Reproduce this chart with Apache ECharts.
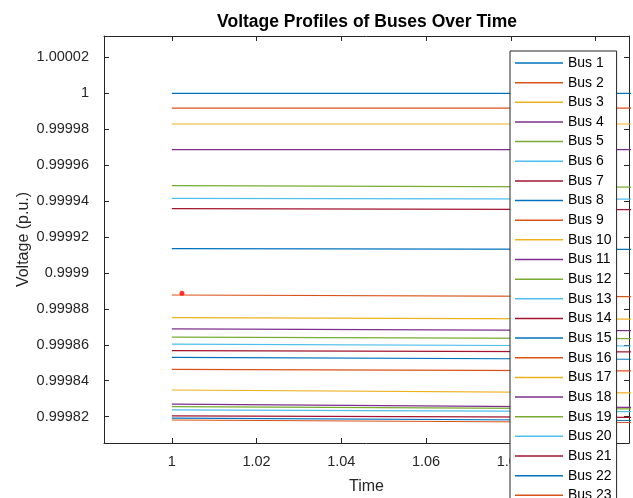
<!DOCTYPE html>
<html>
<head>
<meta charset="utf-8">
<script src="https://cdn.jsdelivr.net/npm/echarts@6/dist/echarts.min.js"></script>
<style>
  html, body { margin: 0; padding: 0; background: #fff; }
  #main { width: 633px; height: 498px; }
</style>
</head>
<body>
<div id="main"></div>
<script>
// time points of each bus trace (the traces run past the right edge of the axes)
const time = [1, 1.11];
const busNames = ["Bus 1", "Bus 2", "Bus 3", "Bus 4", "Bus 5", "Bus 6", "Bus 7", "Bus 8",
  "Bus 9", "Bus 10", "Bus 11", "Bus 12", "Bus 13", "Bus 14", "Bus 15", "Bus 16",
  "Bus 17", "Bus 18", "Bus 19", "Bus 20", "Bus 21", "Bus 22", "Bus 23"];
// voltage at first time point
const vStart = [1.0000000, 0.9999917, 0.9999829, 0.9999686, 0.9999486, 0.9999415, 0.9999358, 0.9999135,
  0.9998877, 0.9998751, 0.9998688, 0.9998642, 0.9998604, 0.9998567, 0.9998530, 0.9998463,
  0.9998348, 0.9998269, 0.9998255, 0.9998237, 0.9998204, 0.9998192, 0.9998181];
// voltage at last time point
const vEnd = [1.0000000, 0.9999917, 0.9999829, 0.9999686, 0.9999478, 0.9999411, 0.9999352, 0.9999131,
  0.9998868, 0.9998742, 0.9998679, 0.9998634, 0.9998593, 0.9998560, 0.9998519, 0.9998454,
  0.9998332, 0.9998251, 0.9998243, 0.9998227, 0.9998195, 0.9998178, 0.9998167];
// red marker point
const markerTime = [1.0024];
const markerVolt = [0.9998887];
// tick labels
const xTicks = [1, 1.02, 1.04, 1.06, 1.08, 1.1];
const yTicks = [0.99982, 0.99984, 0.99986, 0.99988, 0.9999, 0.99992, 0.99994, 0.99996, 0.99998, 1, 1.00002];

const colors = ["#0072BD", "#D95319", "#EDB120", "#7E2F8E", "#77AC30", "#4DBEEE", "#A2142F"];
const font = "'Liberation Sans', Arial, Helvetica, sans-serif";
const axisColor = "#262626";
const fmt = v => String(+v.toFixed(5));

const xRange = [0.984, 1.1079];
const yRange = [0.9998053, 1.0000319];

let myChart = echarts.init(document.getElementById("main"));

let series = busNames.map((name, k) => ({
  name: name,
  type: "line",
  data: time.map((t, i) => [t, i === 0 ? vStart[k] : vEnd[k]]),
  symbol: "none",
  color: colors[k % colors.length],
  lineStyle: { width: 1.2 },
  silent: true,
  animation: false,
}));
series.push({
  name: "marker",
  type: "scatter",
  data: markerTime.map((t, i) => [t, markerVolt[i]]),
  symbolSize: 5,
  itemStyle: { color: "#FF0000" },
  z: 10,
  animation: false,
});

const baseX = {
  type: "value",
  min: xRange[0],
  max: xRange[1],
  splitLine: { show: false },
  axisLine: { show: true, lineStyle: { color: axisColor, width: 1 } },
  axisTick: { show: true, inside: true, length: 5, customValues: xTicks, lineStyle: { color: axisColor } },
};
const baseY = {
  type: "value",
  min: yRange[0],
  max: yRange[1],
  splitLine: { show: false },
  axisLine: { show: true, lineStyle: { color: axisColor, width: 1 } },
  axisTick: { show: true, inside: true, length: 5, customValues: yTicks, lineStyle: { color: axisColor } },
};

let option = {
  backgroundColor: "#fff",
  animation: false,
  title: {
    text: "Voltage Profiles of Buses Over Time",
    left: 367,
    top: 14,
    padding: 0,
    textAlign: "center",
    textStyle: { fontFamily: font, fontSize: 17.5, fontWeight: "bold", color: "#000", lineHeight: 17 },
  },
  legend: {
    data: busNames,
    orient: "vertical",
    left: 510,
    top: 51,
    height: 800,
    padding: [5, 5, 5, 5],
    icon: "rect",
    itemWidth: 48,
    itemHeight: 1.5,
    itemGap: 5.65,
    backgroundColor: "#fff",
    borderColor: axisColor,
    borderWidth: 1,
    borderRadius: 0,
    textStyle: { fontFamily: font, fontSize: 14, color: "#000", lineHeight: 14 },
  },
  grid: { left: 104, right: 4, top: 36, bottom: 55, outerBoundsMode: "none" },
  xAxis: [
    Object.assign({}, baseX, {
      position: "bottom",
      name: "Time",
      nameLocation: "middle",
      nameGap: 36,
      nameMoveOverlap: false,
      nameTextStyle: { fontFamily: font, fontSize: 16, color: axisColor },
      axisLabel: {
        customValues: xTicks, formatter: fmt, margin: 11,
        fontFamily: font, fontSize: 14.5, color: axisColor,
      },
    }),
    Object.assign({}, baseX, { position: "top", axisLabel: { show: false } }),
  ],
  yAxis: [
    Object.assign({}, baseY, {
      position: "left",
      name: "Voltage (p.u.)",
      nameLocation: "middle",
      nameGap: 72,
      nameMoveOverlap: false,
      nameTextStyle: { fontFamily: font, fontSize: 16, color: axisColor },
      axisLabel: {
        customValues: yTicks, formatter: fmt, margin: 15,
        fontFamily: font, fontSize: 14.5, color: axisColor,
      },
    }),
    Object.assign({}, baseY, { position: "right", axisLabel: { show: false } }),
  ],
  series: series,
};

myChart.setOption(option);
</script>
</body>
</html>
